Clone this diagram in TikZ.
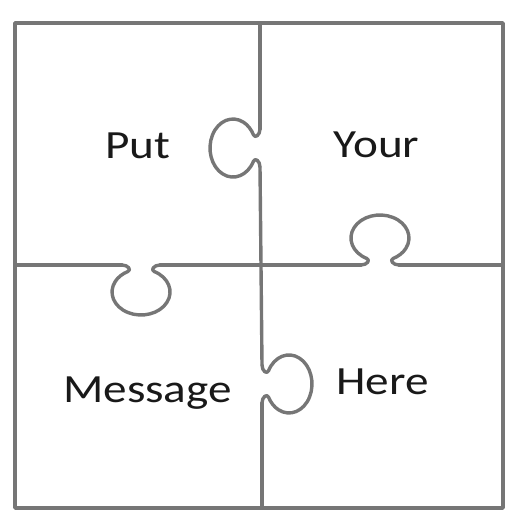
\documentclass[tikz,border=0pt]{standalone}
\usepackage{fontspec}
\setmainfont[FakeStretch=1.18]{Carlito}
\definecolor{edgegray}{RGB}{118,118,118}

\tikzset{
	piece/.style={draw=edgegray, line width=3.4pt, line join=round, line cap=round},
	word/.style={anchor=base, font=\fontsize{40}{44}\selectfont, text=black!90},
	knob/.pic={
		\draw[piece] (-19pt,0pt) .. controls (-13pt,0pt) and (-9.3pt,5pt) .. (-13.2pt,6.5pt)
			arc[start angle=243, end angle=-63, x radius=29pt, y radius=23pt]
			.. controls (9.3pt,5pt) and (13pt,0pt) .. (19pt,0pt);
	}
}

\begin{document}
\begin{tikzpicture}[x=1pt, y=-1pt]
	\useasboundingbox (0,0) rectangle (506,511);
	% outer frame
	\draw[piece] (15,23) rectangle (503,508);
	% vertical seam
	\draw[piece] (260,23) -- (260,129);
	\pic[rotate=90] at (260,148) {knob};
	\draw[piece] (260,167) -- (262,365);
	\pic[rotate=-90] at (262,384) {knob};
	\draw[piece] (262,403) -- (262,508);
	% horizontal seam
	\draw[piece] (15,265) -- (122,265);
	\pic[rotate=180] at (141,265) {knob};
	\draw[piece] (160,265) -- (361,265);
	\pic at (380,265) {knob};
	\draw[piece] (399,265) -- (503,265);
	% words
	\node[word] (put) at (137.5,158) {Put};
	\node[word] (your) at (376.5,157) {Your};
	\node[word] (message) at (147.5,402) {Message};
	\node[word] (here) at (382.5,394) {Here};
\end{tikzpicture}
\end{document}
